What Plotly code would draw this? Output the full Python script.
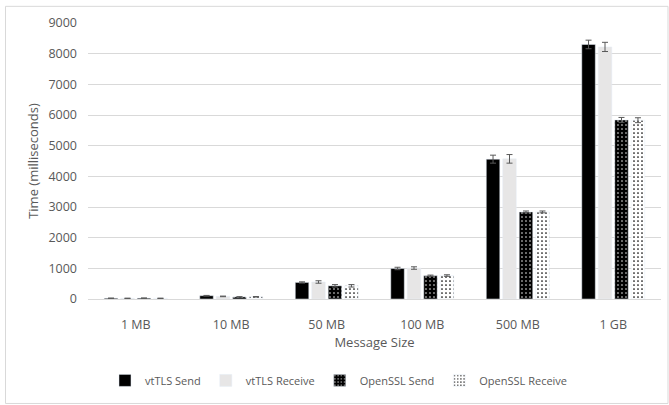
import plotly.graph_objects as go

categories = ["1 MB", "10 MB", "50 MB", "100 MB", "500 MB", "1 GB"]
series_names = ["vtTLS Send", "vtTLS Receive", "OpenSSL Send", "OpenSSL Receive"]
vttls_send = [25, 107, 540, 995, 4560, 8300]
vttls_send_err = [5, 10, 20, 40, 130, 140]
vttls_recv = [22, 85, 555, 1010, 4570, 8220]
vttls_recv_err = [5, 10, 40, 40, 140, 150]
openssl_send = [28, 68, 430, 760, 2840, 5840]
openssl_send_err = [5, 8, 40, 20, 30, 80]
openssl_recv = [22, 72, 430, 765, 2840, 5830]
openssl_recv_err = [5, 8, 40, 25, 30, 80]
y_ticks = [0, 1000, 2000, 3000, 4000, 5000, 6000, 7000, 8000, 9000]

FONT = "Open Sans"
GRAY = "#595959"

def err(vals):
    return dict(type="data", array=vals, visible=True, color=GRAY, thickness=1, width=3)

fig = go.Figure()
fig.add_trace(go.Bar(name=series_names[0], x=categories, y=vttls_send,
                     marker=dict(color="#000000"), error_y=err(vttls_send_err)))
fig.add_trace(go.Bar(name=series_names[1], x=categories, y=vttls_recv,
                     marker=dict(color="#E7E6E6"), error_y=err(vttls_recv_err)))
fig.add_trace(go.Bar(name=series_names[2], x=categories, y=openssl_send,
                     marker=dict(color="#000000",
                                 pattern=dict(shape=".", bgcolor="#000000", fgcolor="#FFFFFF",
                                              size=4, solidity=0.12, fillmode="replace")),
                     error_y=err(openssl_send_err)))
fig.add_trace(go.Bar(name=series_names[3], x=categories, y=openssl_recv,
                     marker=dict(color="#FFFFFF",
                                 pattern=dict(shape=".", bgcolor="#FFFFFF", fgcolor="#000000",
                                              size=4, solidity=0.14, fillmode="replace")),
                     error_y=err(openssl_recv_err)))

fig.update_layout(
    width=669, height=405,
    margin=dict(l=88, r=8, t=23, b=106),
    paper_bgcolor="white", plot_bgcolor="white",
    font=dict(family=FONT, size=13, color=GRAY),
    barmode="group", bargap=0.31, bargroupgap=0.18,
    showlegend=True,
    legend=dict(orientation="h", x=0.438, xanchor="center", y=-0.295, yanchor="middle",
                font=dict(family=FONT, size=11, color=GRAY), itemwidth=30,
                traceorder="normal"),
    xaxis=dict(showgrid=False, showline=True, linecolor="#D9D9D9", linewidth=1,
               ticks="", tickfont=dict(size=12.5, color=GRAY), ticklabelstandoff=14,
               title=dict(text="Message Size", font=dict(size=13, color=GRAY), standoff=5)),
    yaxis=dict(range=[0, 9000], tickvals=y_ticks, showgrid=True, gridcolor="#D9D9D9",
               gridwidth=1, zeroline=False, showline=False, ticks="",
               tickfont=dict(size=12.5, color=GRAY), ticklabelstandoff=10,
               title=dict(text="Time (milliseconds)", font=dict(size=13, color=GRAY), standoff=6)),
)

fig.add_shape(type="rect", xref="paper", yref="paper",
              x0=(5.5 - 88) / 573, x1=(668 - 88) / 573,
              y0=(299.3 - 404) / 276.6, y1=(299.3 - 6) / 276.6,
              line=dict(color="#D9D9D9", width=1), fillcolor="rgba(0,0,0,0)", layer="below")

fig.write_html("out.html", config={"displayModeBar": False},
               post_script="document.body.style.margin='0';document.body.style.overflow='hidden';")
